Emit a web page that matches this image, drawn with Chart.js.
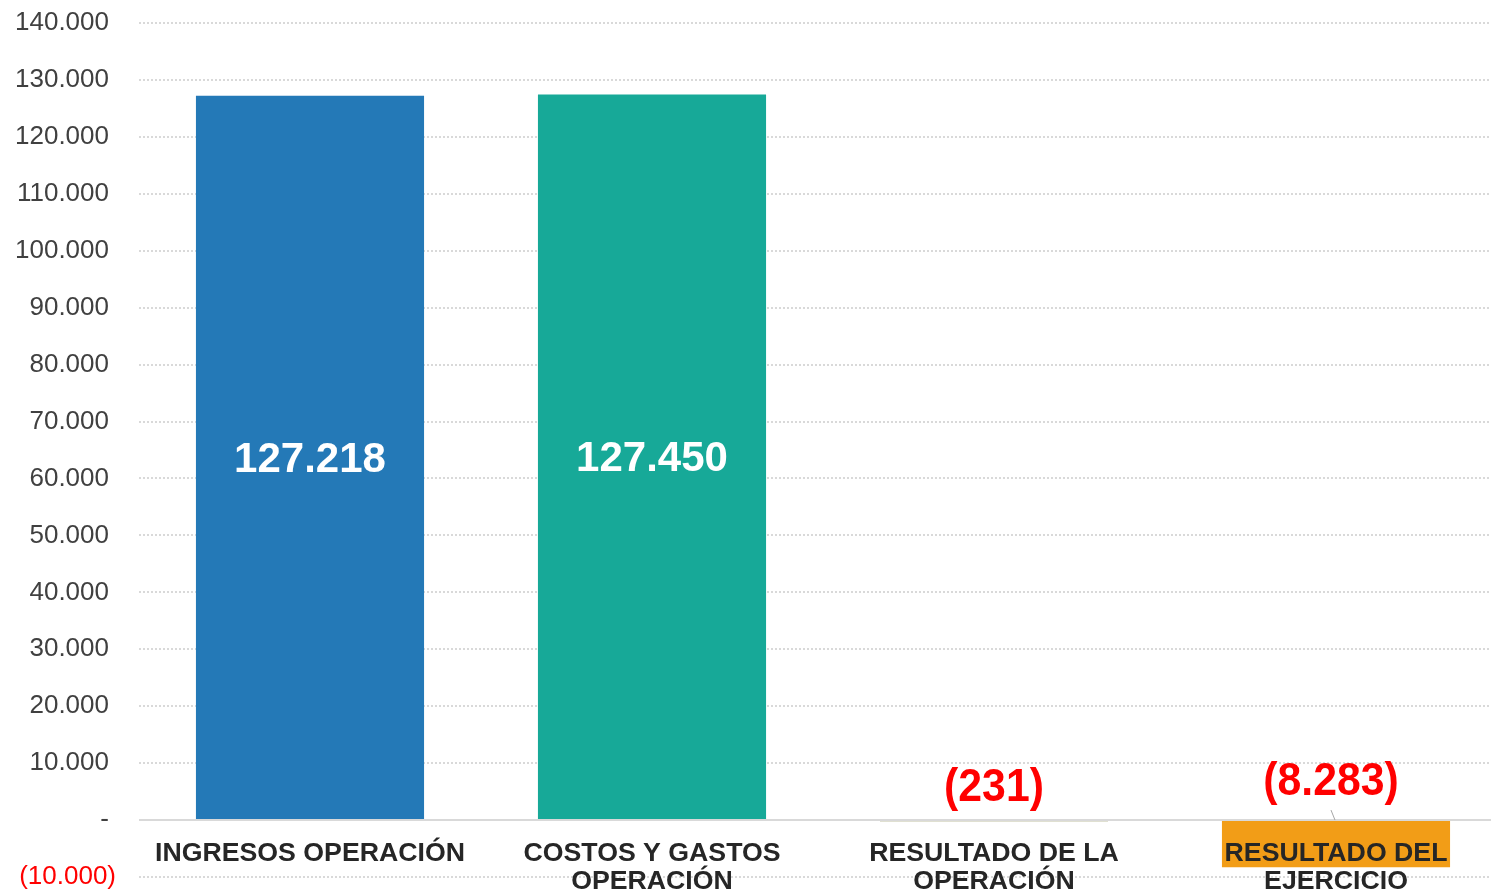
<!DOCTYPE html>
<html>
<head>
<meta charset="utf-8">
<script src="https://cdn.jsdelivr.net/npm/chart.js@4"></script>
<style>
  html, body { margin: 0; padding: 0; background: #fff; overflow: hidden; }
  #wrap { width: 1507px; height: 893px; }
</style>
</head>
<body>
<div id="wrap"><canvas id="grafico"></canvas></div>
<script>
// datos del grafico
const categorias = [
    ['INGRESOS OPERACIÓN'],
    ['COSTOS Y GASTOS', 'OPERACIÓN'],
    ['RESULTADO DE LA', 'OPERACIÓN'],
    ['RESULTADO DEL', 'EJERCICIO']
];
const valores = [127218, 127450, -231, -8283];
const colores = ['#2479b7', '#17a998', '#c2c2a4', '#f29d17'];
const ejeMin = -10000;
const ejeMax = 140000;
const ejePaso = 10000;

function formatoMiles(v) {
    const s = Math.abs(v).toString().replace(/\B(?=(\d{3})+(?!\d))/g, '.');
    return v < 0 ? '(' + s + ')' : s;
}

const fuenteEje = '26px "Liberation Sans", Arial, sans-serif';

// linea del cero, etiquetas de valores y de categorias
const etiquetasPlugin = {
    id: 'etiquetas',
    beforeDatasetsDraw(chart) {
        const { ctx, chartArea, scales } = chart;
        const y0 = scales.y.getPixelForValue(0);
        ctx.save();
        ctx.strokeStyle = '#d9d9d9';
        ctx.lineWidth = 2;
        ctx.beginPath();
        ctx.moveTo(chartArea.left, y0);
        ctx.lineTo(chartArea.right, y0);
        ctx.stroke();
        // etiqueta negativa del eje, va mas a la derecha (parentesis)
        ctx.fillStyle = '#ff0000';
        ctx.font = fuenteEje;
        ctx.textAlign = 'right';
        ctx.textBaseline = 'middle';
        ctx.fillText(formatoMiles(ejeMin), chartArea.left - 23, scales.y.getPixelForValue(ejeMin));
        ctx.restore();
    },
    afterDatasetsDraw(chart) {
        const { ctx, scales } = chart;
        const y0 = scales.y.getPixelForValue(0);
        const meta = chart.getDatasetMeta(0);
        ctx.save();
        ctx.textAlign = 'center';
        ctx.textBaseline = 'middle';
        meta.data.forEach((bar, i) => {
            const v = valores[i];
            if (v >= 0) {
                ctx.fillStyle = '#ffffff';
                ctx.font = 'bold 42px "Liberation Sans", Arial, sans-serif';
                ctx.fillText(formatoMiles(v), bar.x, (bar.y + bar.base) / 2 + 3);
            } else {
                const dy = i === 3 ? 38 : 32;
                const dx = i === 3 ? -5 : 0;
                ctx.fillStyle = '#ff0000';
                ctx.font = 'bold 46px "Liberation Sans", Arial, sans-serif';
                ctx.save();
                // fuente angosta simulada
                ctx.translate(bar.x + dx, y0 - dy);
                ctx.scale(0.93, 1);
                ctx.fillText(formatoMiles(v), 0, 0);
                ctx.restore();
                if (i === 3) {
                    ctx.strokeStyle = '#a6a6a6';
                    ctx.lineWidth = 1;
                    ctx.beginPath();
                    ctx.moveTo(bar.x - 5, y0 - 10);
                    ctx.lineTo(bar.x - 1, y0);
                    ctx.stroke();
                }
            }
            ctx.fillStyle = '#262626';
            ctx.font = 'bold 26.7px "Liberation Sans", Arial, sans-serif';
            categorias[i].forEach((linea, k) => {
                ctx.fillText(linea, bar.x, y0 + 34 + k * 28);
            });
        });
        ctx.restore();
    }
};

const ctx = document.getElementById('grafico').getContext('2d');
new Chart(ctx, {
    type: 'bar',
    data: {
        labels: categorias.map(c => c.join(' ')),
        datasets: [{
            data: valores,
            backgroundColor: colores,
            borderWidth: 0,
            barPercentage: 0.667,
            categoryPercentage: 1
        }]
    },
    options: {
        responsive: true,
        maintainAspectRatio: false,
        animation: false,
        layout: { padding: { top: 23, bottom: 16, left: 0, right: 0 } },
        plugins: {
            legend: { display: false },
            tooltip: { enabled: false }
        },
        scales: {
            x: {
                display: false
            },
            y: {
                min: ejeMin,
                max: ejeMax,
                afterFit(scale) {
                    scale.width = 139;
                    scale.paddingTop = 0;
                    scale.paddingBottom = 0;
                },
                ticks: {
                    stepSize: ejePaso,
                    padding: 30,
                    font: { family: '"Liberation Sans", Arial, sans-serif', size: 26 },
                    color: c => c.tick && c.tick.value < 0 ? 'rgba(0,0,0,0)' : '#404040',
                    callback: v => v === 0 ? '-' : formatoMiles(v)
                },
                grid: {
                    drawTicks: false,
                    lineWidth: 2,
                    color: c => c.tick && c.tick.value === 0 ? 'rgba(0,0,0,0)' : '#d9d9d9'
                },
                border: { display: false, dash: [2, 2] }
            }
        }
    },
    plugins: [etiquetasPlugin]
});
</script>
</body>
</html>
